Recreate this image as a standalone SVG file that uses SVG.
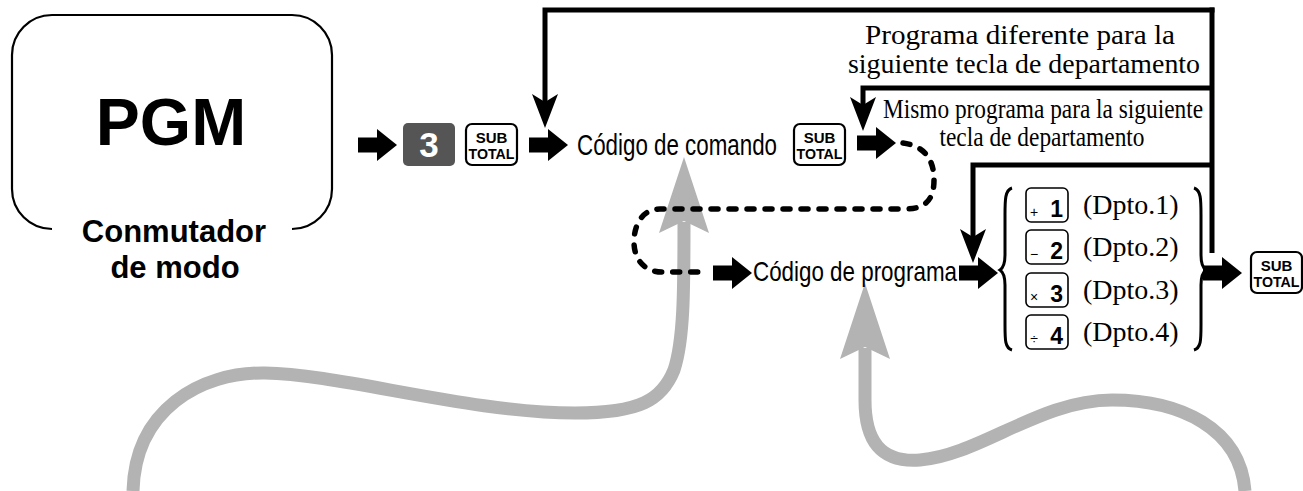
<svg xmlns="http://www.w3.org/2000/svg" width="1303" height="491" viewBox="0 0 1303 491">
<defs>
<style>
.sans{font-family:"Liberation Sans",Arial,sans-serif}
.serif{font-family:"Liberation Serif","Times New Roman",serif;fill:#000}
.key{fill:#fff;stroke:#000;stroke-width:2.2}
.keysm{fill:#fff;stroke:#000;stroke-width:1.6}
.kt{font-family:"Liberation Sans",Arial,sans-serif;font-weight:bold;font-size:15px;text-anchor:middle}
.line{fill:none;stroke:#000;stroke-width:5}
.gray{fill:none;stroke:#b3b3b3;stroke-width:13}
.gfill{fill:#b3b3b3}
.dash{fill:none;stroke:#000;stroke-width:5.5;stroke-dasharray:7 11;stroke-linecap:round}
.brace{fill:none;stroke:#000;stroke-width:3}
.sym{font-family:"Liberation Sans",Arial,sans-serif;font-size:14px;text-anchor:middle}
.num{font-family:"Liberation Sans",Arial,sans-serif;font-weight:bold;font-size:23px;text-anchor:end}
.dpto{font-family:"Liberation Serif","Times New Roman",serif;font-size:28px}
</style>
<path id="barrow" d="M0 -7.5 L19 -7.5 L19 -16 L39 0 L19 16 L19 7.5 L0 7.5 Z"/>
<path id="dhead" d="M0 0 L-13 -34 L0 -26 L13 -34 Z"/>
<path id="ghead" d="M0 0 L25 76 L0 64 L-25 76 Z"/>
<g id="subtotal">
<rect class="key" x="0" y="0" width="51" height="41" rx="6"/>
<text class="kt" x="25.5" y="19">SUB</text>
<text class="kt" x="25.5" y="35" textLength="46" lengthAdjust="spacingAndGlyphs">TOTAL</text>
</g>
</defs>

<g id="gray-arrows">
<path class="gray" d="M133 491 C135 410 200 372 265 373 C340 374 470 413 575 413 C640 413 662 400 674 370 C684 340 684 290 684 222"/>
<use href="#ghead" class="gfill" transform="translate(684,157)"/>
<path class="gray" d="M1245 491 C1240 428 1180 400 1112 400 C1040 400 980 455 920 460 C880 463 865 440 865 400 L865 348"/>
<use href="#ghead" class="gfill" transform="translate(865,283)"/>
</g>

<g id="mode-switch">
<path d="M52 229 L52 229 A40 40 0 0 1 12 189 L12 55 A40 40 0 0 1 52 15 L292 15 A40 40 0 0 1 332 55 L332 189 A40 40 0 0 1 292 229" fill="none" stroke="#000" stroke-width="2.2"/>
<text class="sans" x="171" y="145" font-size="66" font-weight="bold" text-anchor="middle">PGM</text>
<text class="sans" x="174" y="242" font-size="31" font-weight="bold" text-anchor="middle">Conmutador</text>
<text class="sans" x="175" y="278" font-size="31" font-weight="bold" text-anchor="middle">de modo</text>
</g>

<g id="key-3">
<rect x="403" y="123" width="52" height="43" rx="5" fill="#555"/>
<text class="sans" x="429" y="157" font-size="35" font-weight="bold" fill="#fff" text-anchor="middle">3</text>
</g>

<g id="key-subtotal-1"><use href="#subtotal" transform="translate(466,124)"/></g>

<g id="codigo-comando">
<text class="sans" x="577" y="155" font-size="29" textLength="200" lengthAdjust="spacingAndGlyphs">Código de comando</text>
</g>

<g id="key-subtotal-2"><use href="#subtotal" transform="translate(794,124)"/></g>

<g id="label-diferente">
<text class="serif" x="1020" y="44" font-size="28" text-anchor="middle" textLength="310" lengthAdjust="spacingAndGlyphs">Programa diferente para la</text>
<text class="serif" x="1024" y="73" font-size="28" text-anchor="middle" textLength="352" lengthAdjust="spacingAndGlyphs">siguiente tecla de departamento</text>
</g>

<g id="label-mismo">
<text class="serif" x="1043" y="118" font-size="27" text-anchor="middle" textLength="320" lengthAdjust="spacingAndGlyphs">Mismo programa para la siguiente</text>
<text class="serif" x="1042" y="146" font-size="27" text-anchor="middle" textLength="205" lengthAdjust="spacingAndGlyphs">tecla de departamento</text>
</g>

<g id="codigo-programa">
<text class="sans" x="753" y="281" font-size="28" textLength="204" lengthAdjust="spacingAndGlyphs">Código de programa</text>
</g>

<g id="dept-keys">
<path class="brace" d="M1012 188 C1005 190 1005 200 1005 215 L1005 255 C1005 265 1003 268 1000 270 C1003 272 1005 275 1005 285 L1005 325 C1005 340 1005 348 1012 350"/>
<path class="brace" d="M1194 188 C1201 190 1201 200 1201 215 L1201 255 C1201 265 1203 268 1206 270 C1203 272 1201 275 1201 285 L1201 325 C1201 340 1201 348 1194 350"/>
<g id="dept-1">
<rect class="keysm" x="1026" y="188" width="42" height="34" rx="5"/>
<text class="sym" x="1034" y="217">+</text>
<text class="num" x="1063" y="217">1</text>
<text class="dpto" x="1083" y="214">(Dpto.1)</text>
</g>
<g id="dept-2">
<rect class="keysm" x="1026" y="230" width="42" height="34" rx="5"/>
<text class="sym" x="1034" y="259">−</text>
<text class="num" x="1063" y="259">2</text>
<text class="dpto" x="1083" y="256">(Dpto.2)</text>
</g>
<g id="dept-3">
<rect class="keysm" x="1026" y="273" width="42" height="34" rx="5"/>
<text class="sym" x="1034" y="302">×</text>
<text class="num" x="1063" y="302">3</text>
<text class="dpto" x="1083" y="299">(Dpto.3)</text>
</g>
<g id="dept-4">
<rect class="keysm" x="1026" y="315" width="42" height="34" rx="5"/>
<text class="sym" x="1034" y="344">÷</text>
<text class="num" x="1063" y="344">4</text>
<text class="dpto" x="1083" y="341">(Dpto.4)</text>
</g>
</g>

<g id="key-subtotal-3"><use href="#subtotal" transform="translate(1251,252)"/></g>

<g id="connectors">
<path class="dash" d="M903 143 C925 146 934 160 934 180 C934 200 925 209 905 209 L660 209 C642 209 634 225 634 242 C634 260 645 272 662 272 L706 272"/>
<path class="line" d="M1212 7.5 L1212 253"/>
<path class="line" d="M1214.5 10 L545 10 L545 104"/>
<use href="#dhead" transform="translate(545,128)"/>
<path class="line" d="M1212 88 L863 88 L863 106"/>
<use href="#dhead" transform="translate(863,131)"/>
<path class="line" d="M1212 165 L973 165 L973 238"/>
<use href="#dhead" transform="translate(973,263)"/>
<use href="#barrow" transform="translate(358,145)"/>
<use href="#barrow" transform="translate(529,145)"/>
<use href="#barrow" transform="translate(857,143)"/>
<use href="#barrow" transform="translate(713,273)"/>
<use href="#barrow" transform="translate(959,273)"/>
<use href="#barrow" transform="translate(1203,273)"/>
</g>
</svg>
